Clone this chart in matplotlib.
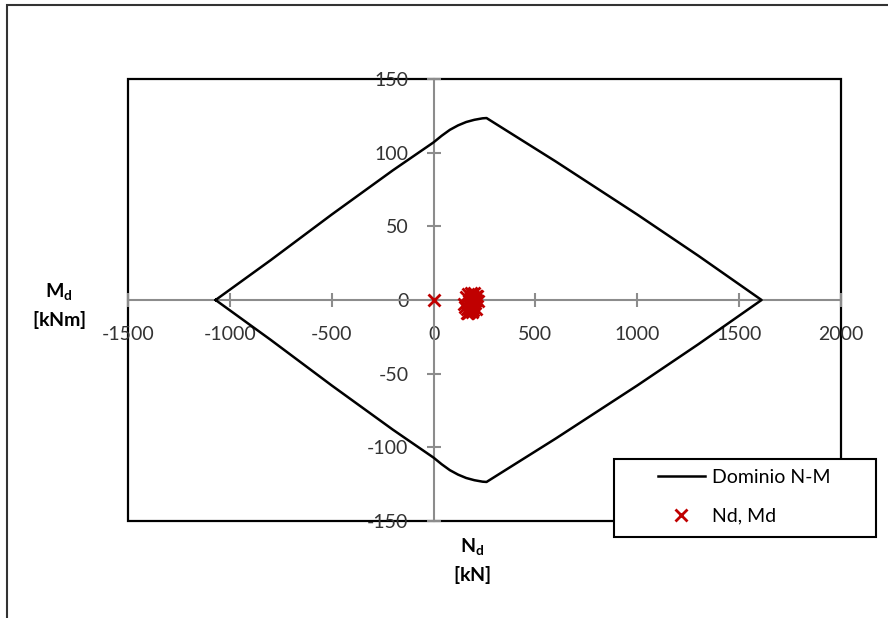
import matplotlib
matplotlib.use('Agg')
import matplotlib.pyplot as plt
from matplotlib.patches import Rectangle
from matplotlib.lines import Line2D

plt.rcParams['font.family'] = ['Lato', 'DejaVu Sans']
plt.rcParams['mathtext.fontset'] = 'custom'
plt.rcParams['mathtext.bf'] = 'Lato:bold'
plt.rcParams['mathtext.rm'] = 'Lato'
plt.rcParams['axes.unicode_minus'] = False

# interaction domain, upper branch (lower branch is mirrored)
dom_n = [-1070, -800, -500, -200, 0, 40, 80, 120, 160, 200, 240, 260, 600, 1000, 1300, 1610]
dom_m = [0, 27, 58, 88, 107, 111.5, 115.5, 118.5, 120.8, 122.3, 123.3, 123.5, 94, 58, 30, 0]

# design actions
nd = [0, 150, 160, 165, 170, 175, 180, 185, 190, 195, 200, 205, 210, 215, 220,
      155, 168, 178, 188, 198, 208, 172, 182, 192, 202, 162, 186, 196, 176, 206]
md = [0, -3, 2, -6, 4, -8, 1, -4, 3, -7, 5, -2, 0, 3, -1,
      -5, -9, 3, -8, -3, -6, -1, 5, -5, 1, -9, -1, 2, -6, 3]

xticks = [-1500, -1000, -500, 0, 500, 1000, 1500, 2000]
yticks = [-150, -100, -50, 0, 50, 100, 150]

fig = plt.figure(figsize=(8.88, 6.18), dpi=100)
ax = fig.add_axes([128/888, 1-521/618, 713/888, 442/618])

full_n = dom_n + dom_n[::-1]
full_m = dom_m + [-m for m in dom_m[::-1]]
ax.plot(full_n, full_m, color='black', lw=1.8, zorder=3)
ax.plot(nd, md, ls='none', marker='x', color='#C00000', ms=8, mew=2, zorder=4)

ax.set_xlim(-1500, 2000)
ax.set_ylim(-150, 150)
ax.set_xticks(xticks)
ax.set_yticks(yticks)

gray = '#8c8c8c'
ax.spines['left'].set_position(('data', 0))
ax.spines['bottom'].set_position(('data', 0))
for s in ['left', 'bottom']:
    ax.spines[s].set_color(gray)
    ax.spines[s].set_linewidth(1.5)
    ax.spines[s].set_zorder(2)
ax.spines['top'].set_visible(False)
ax.spines['right'].set_visible(False)
ax.tick_params(direction='inout', length=10, width=1.5, color=gray,
               labelsize=14, labelcolor='#333333')
ax.tick_params(axis='y', pad=13)
ax.tick_params(axis='x', pad=14)
ax.add_patch(Rectangle((0, 0), 1, 1, transform=ax.transAxes, fill=False,
                       ec='black', lw=1.6, clip_on=False, zorder=1))

fig.text(59/888, 1-306/618, '$\\mathbf{M_d}$\n$\\mathbf{[kNm]}$', ha='center', va='center',
         fontsize=14, linespacing=1.4)
fig.text(472/888, 1-561/618, '$\\mathbf{N_d}$\n$\\mathbf{[kN]}$', ha='center', va='center',
         fontsize=14, linespacing=1.4)

# legend box drawn by hand so it gets the reference width
fig.patches.append(Rectangle((614/888, 1-537/618), 262/888, 78/618, transform=fig.transFigure,
                             fc='white', ec='black', lw=1.5, zorder=2))
handles = [Line2D([], [], color='black', lw=1.8),
           Line2D([], [], ls='none', marker='x', color='#C00000', ms=8, mew=2)]
leg = fig.legend(handles, ['Dominio N-M', 'Nd, Md'], loc='upper left',
                 bbox_to_anchor=(658/888, 1-469/618), frameon=False,
                 fontsize=14, borderaxespad=0, borderpad=0, handlelength=2.4,
                 labelspacing=1.1, handletextpad=0.4)
leg.set_zorder(3)

fig.patches.append(Rectangle((7/888, -0.1), 2, 1.1 - 5/618, transform=fig.transFigure,
                             fill=False, ec='#333333', lw=1.5))

fig.savefig('out.png', dpi=100)
